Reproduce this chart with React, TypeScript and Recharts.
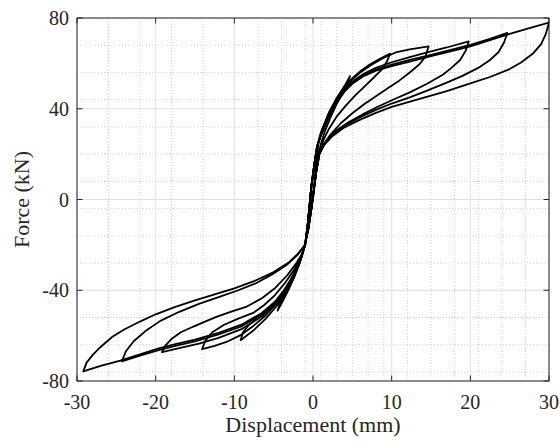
import React from 'react';
import {
  LineChart,
  Line,
  XAxis,
  YAxis,
  CartesianGrid,
  ReferenceArea,
} from 'recharts';

// axis ticks
const xTicks = [-30, -20, -10, 0, 10, 20, 30];
const yTicks = [-80, -40, 0, 40, 80];

// hysteresis cycles, [displacement (mm), force (kN)] in the order they were traced
const loop5: [number, number][] = [
  [0, 0], [0.2, 8], [0.4, 17], [0.7, 25], [1.2, 31], [2, 38], [3, 44.5], [4, 50], [4.7, 54.4],
  [4.4, 51.5], [3.8, 47.5], [3, 42], [2.2, 36], [1.5, 30], [1, 24.5], [0.7, 20], [0.4, 13], [0.1, 5],
  [-0.2, -3], [-0.6, -13], [-1.1, -21],
  [-1.6, -27], [-2.3, -33.5], [-3, -39], [-3.8, -44.5], [-4.5, -49],
  [-4.2, -46], [-3.6, -42], [-2.8, -36.5], [-2, -30.5], [-1.4, -25], [-1, -20], [-0.7, -12],
  [-0.45, -3], [-0.2, 6], [0.15, 15], [0.5, 23],
];

const loop10: [number, number][] = [
  [0.5, 23], [1, 29.5], [2, 38], [3, 44.5], [4, 49.5], [5, 53.5], [6, 56.5], [7, 59], [8.5, 62], [9.8, 64.3],
  [9.4, 60.8], [8.8, 57.5], [7.8, 54], [6.6, 50], [5.4, 46], [4.2, 41.5], [3, 36.5], [2, 31], [1.3, 26],
  [0.8, 20], [0.4, 12], [0.1, 4], [-0.2, -4], [-0.6, -13], [-1.1, -21],
  [-1.7, -28], [-2.5, -35], [-3.5, -41.5], [-4.5, -46.5], [-6, -52.5], [-7.5, -57.5], [-9.2, -62],
  [-8.9, -58.5], [-8.2, -55.5], [-7.2, -52.5], [-6, -49], [-4.8, -45], [-3.8, -40.5], [-2.8, -35],
  [-2, -29.5], [-1.4, -24.5], [-1, -20], [-0.7, -12], [-0.45, -3], [-0.2, 6], [0.15, 15], [0.5, 23],
];

const loop15: [number, number][] = [
  [0.5, 23], [1, 29], [2, 37.5], [3, 44], [4, 49], [5, 53], [6, 56], [7.5, 59.5], [9, 62.5], [10.5, 64.8],
  [12.3, 66.2], [14.7, 67.5],
  [14.3, 63], [13.5, 59.5], [12.3, 56], [11, 52.5], [9.5, 49], [8, 45.5], [6.5, 42], [5, 38], [3.5, 33.5],
  [2.2, 28.5], [1.3, 24], [0.8, 20], [0.4, 12], [0.1, 4], [-0.2, -4], [-0.6, -13], [-1.1, -21],
  [-1.7, -28], [-2.5, -34.5], [-3.5, -41], [-4.5, -45.5], [-6, -51], [-7.5, -55.5], [-9.2, -59.8],
  [-11, -62.8], [-12.5, -64.5], [-14.1, -66],
  [-13.7, -62.3], [-12.8, -58.5], [-11.3, -55.2], [-9.5, -52.5], [-7.6, -50], [-6.2, -46.5], [-4.8, -42],
  [-3.5, -36.5], [-2.4, -31], [-1.5, -25], [-1, -20], [-0.7, -12], [-0.45, -3], [-0.2, 6], [0.15, 15], [0.5, 23],
];

const loop20: [number, number][] = [
  [0.5, 23], [1, 28.5], [2, 37], [3, 43.5], [4, 48.5], [5, 52], [6.5, 55.5], [8, 58], [10, 60.5],
  [12.3, 62.8], [14.5, 64.8], [17, 67], [19.8, 69.7],
  [19.4, 65.5], [18.7, 61.5], [17.6, 58], [16.5, 55], [14.5, 51], [12.3, 47.2], [10.3, 44.2], [8.3, 41],
  [6.3, 37.5], [4.5, 34], [3, 30.5], [1.8, 26.5], [0.8, 20], [0.4, 12], [0.1, 4], [-0.2, -4], [-0.6, -13], [-1.1, -21],
  [-1.7, -27.5], [-2.5, -34], [-3.5, -40.5], [-4.5, -45], [-6.5, -51.5], [-9, -57], [-12, -61],
  [-14.5, -63.5], [-17, -65.5], [-19.2, -67.3],
  [-18.8, -64.5], [-18, -61.5], [-16.8, -58.5], [-15.2, -56], [-13.5, -53.5], [-12.2, -51.6], [-10.3, -49.3],
  [-8.4, -47.2], [-6.5, -43.5], [-4.8, -39], [-3.3, -33.5], [-2.2, -28.5], [-1.4, -24], [-1, -20],
  [-0.7, -12], [-0.45, -3], [-0.2, 6], [0.15, 15], [0.5, 23],
];

const loop25: [number, number][] = [
  [0.5, 23], [1, 28.5], [2, 36.5], [3, 43], [4, 48], [5, 51.5], [6.5, 55], [8, 57.3], [10, 59.5],
  [12.3, 61.5], [15, 63.8], [17.5, 66], [20, 68.2], [22.5, 70.8], [24.7, 73.4],
  [24.3, 69.3], [23.6, 65], [22.5, 61.5], [21, 58], [19, 54.5], [17, 51.5], [14.5, 48], [12.3, 45],
  [10, 42.3], [8, 39.5], [6, 36.3], [4, 32.5], [2.5, 28.5], [1.4, 24.5], [0.8, 20], [0.4, 12], [0.1, 4],
  [-0.2, -4], [-0.6, -13], [-1.1, -21],
  [-1.7, -27.5], [-2.5, -34], [-3.5, -40], [-4.5, -44.5], [-6.5, -50.5], [-9, -55.8], [-12, -59.5],
  [-15, -62.5], [-17.5, -64.5], [-19.5, -66.3], [-22, -68.8], [-24.3, -71.4],
  [-23.8, -67], [-22.8, -62.5], [-21.3, -58], [-19.4, -53.5], [-17, -49.5], [-14.5, -46], [-12, -43],
  [-9.5, -40], [-7.3, -37], [-5.2, -33], [-3.4, -29], [-2, -24.5], [-1, -20], [-0.7, -12], [-0.45, -3],
  [-0.2, 6], [0.15, 15], [0.5, 23],
];

const loop30: [number, number][] = [
  [0.5, 23], [1, 28], [2, 36], [3, 42.5], [4, 47.5], [5, 51], [6.5, 54.5], [8, 56.8], [10, 58.8],
  [12.3, 60.8], [15, 63.2], [17.5, 65.3], [20, 67.5], [22.5, 70.2], [25, 73], [27.5, 75.5], [30, 78],
  [29.6, 73], [29, 68.5], [28, 64.5], [26.5, 60.5], [25, 57.5], [22.5, 54], [20, 51.2], [17, 47.8],
  [14, 44.8], [12, 42.8], [10, 40.8], [8, 38.2], [6, 35.2], [4, 31.8], [2.5, 28], [1.4, 24], [0.8, 20],
  [0.4, 12], [0.1, 4], [-0.2, -4], [-0.6, -13], [-1.1, -21],
  [-1.7, -27.5], [-2.5, -33.5], [-3.5, -39.5], [-4.5, -44], [-6.5, -50], [-9, -55], [-12, -58.8],
  [-15, -61.8], [-17.5, -63.8], [-19.5, -65.5], [-22, -68.3], [-24.5, -71], [-27, -73.3], [-29.2, -75.8],
  [-28.8, -72], [-28, -68.5], [-27, -65], [-25.5, -60.5], [-24, -57.3], [-22, -53.8], [-20, -50.6],
  [-17.5, -47.3], [-15, -44.5], [-12.5, -41.8], [-10, -39.2], [-7.5, -36], [-5, -32], [-3, -27.5],
  [-1.8, -23.5], [-1, -20], [-0.7, -12], [-0.45, -3], [-0.2, 6], [0, 10],
];

const loops = [loop5, loop10, loop15, loop20, loop25, loop30];

// layout
const W = 560;
const H = 441;
const M = { top: 18, right: 11, left: 0, bottom: 0 };
const Y_AXIS_W = 77;
const X_AXIS_H = 60;
const PLOT_TOP = M.top;
const PLOT_BOTTOM = H - M.bottom - X_AXIS_H;
const PLOT_LEFT = M.left + Y_AXIS_W;
const PLOT_RIGHT = W - M.right;
const TICK_LEN = 5.5;
const FONT = "'Liberation Serif', 'Times New Roman', serif";
const AXIS_COLOR = '#262626';
const tickText = { fontFamily: FONT, fontSize: 20, fill: AXIS_COLOR };

// minor grid (1 mm, 4 kN)
const xMinor: number[] = [];
for (let v = -30; v <= 30; v += 1) xMinor.push(v);
const yMinor: number[] = [];
for (let v = -80; v <= 80; v += 4) yMinor.push(v);

function XTick({ x, payload }: any) {
  return (
    <g>
      <line x1={x} x2={x} y1={PLOT_BOTTOM} y2={PLOT_BOTTOM - TICK_LEN} stroke={AXIS_COLOR} />
      <line x1={x} x2={x} y1={PLOT_TOP} y2={PLOT_TOP + TICK_LEN} stroke={AXIS_COLOR} />
      <text x={x} y={PLOT_BOTTOM + 28} textAnchor="middle" style={tickText}>
        {payload.value}
      </text>
    </g>
  );
}

function YTick({ y, payload }: any) {
  return (
    <g>
      <line x1={PLOT_LEFT} x2={PLOT_LEFT + TICK_LEN} y1={y} y2={y} stroke={AXIS_COLOR} />
      <line x1={PLOT_RIGHT} x2={PLOT_RIGHT - TICK_LEN} y1={y} y2={y} stroke={AXIS_COLOR} />
      <text x={PLOT_LEFT - 8} y={y} dy="0.35em" textAnchor="end" style={tickText}>
        {payload.value}
      </text>
    </g>
  );
}

export default function App() {
  return (
    <div
      style={{
        position: 'absolute',
        left: 0,
        top: 0,
        width: W,
        height: H,
        background: '#fff',
        fontFamily: FONT,
      }}
    >
      <LineChart width={W} height={H} margin={M}>
        {/* minor dotted grid */}
        <CartesianGrid
          stroke="#d2d2d2"
          strokeDasharray="1 2"
          verticalValues={xMinor}
          horizontalValues={yMinor}
        />
        {/* major grid */}
        <CartesianGrid stroke="#e2e2e2" verticalValues={xTicks} horizontalValues={yTicks} />
        <XAxis
          type="number"
          dataKey="d"
          domain={[-30, 30]}
          ticks={xTicks}
          allowDataOverflow
          height={X_AXIS_H}
          tickLine={false}
          axisLine={false}
          tick={(p: any) => <XTick {...p} />}
          label={{
            value: 'Displacement (mm)',
            position: 'insideBottom',
            offset: 9,
            style: { fontFamily: FONT, fontSize: 22, fill: AXIS_COLOR },
          }}
        />
        <YAxis
          type="number"
          dataKey="f"
          domain={[-80, 80]}
          ticks={yTicks}
          allowDataOverflow
          width={Y_AXIS_W}
          tickLine={false}
          axisLine={false}
          tick={(p: any) => <YTick {...p} />}
          label={{
            value: 'Force (kN)',
            angle: -90,
            position: 'insideLeft',
            offset: 21,
            style: { fontFamily: FONT, fontSize: 22, fill: AXIS_COLOR, textAnchor: 'middle' },
          }}
        />
        {loops.map((loop, i) => (
          <Line
            key={i}
            data={loop.map(([d, f]) => ({ d, f }))}
            dataKey="f"
            type="linear"
            stroke="#000"
            strokeWidth={1.8}
            strokeLinejoin="round"
            dot={false}
            activeDot={false}
            isAnimationActive={false}
          />
        ))}
        <ReferenceArea
          x1={-30}
          x2={30}
          y1={-80}
          y2={80}
          fill="none"
          fillOpacity={0}
          stroke={AXIS_COLOR}
          strokeWidth={1}
        />
      </LineChart>
    </div>
  );
}
